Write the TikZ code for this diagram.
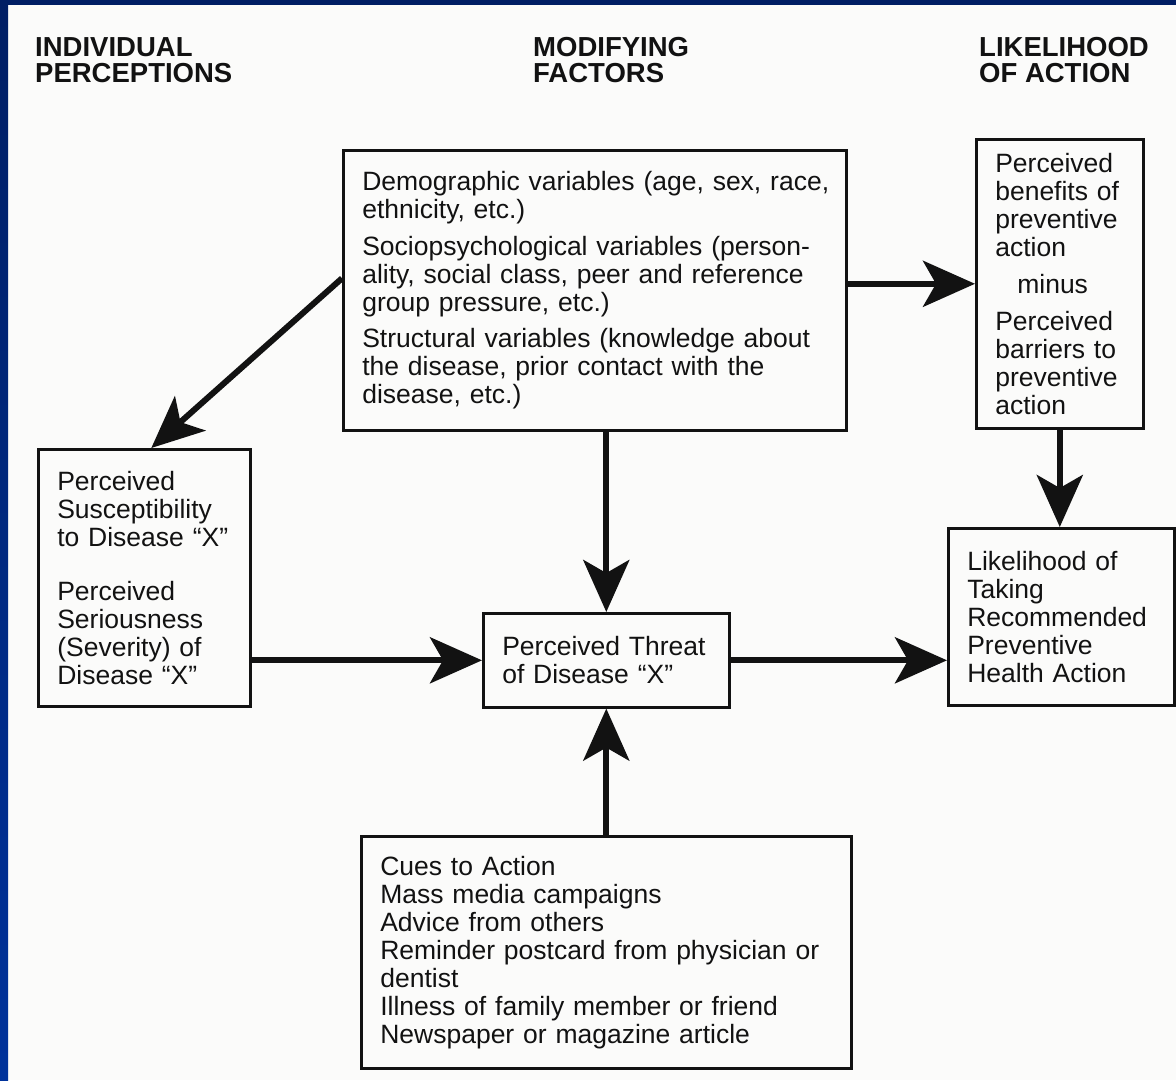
\documentclass[tikz,border=0pt]{standalone}
\usepackage{fontspec}
\setmainfont{Liberation Sans}
\usetikzlibrary{arrows.meta}

\definecolor{navy}{RGB}{0,30,100}
\definecolor{slideblue}{RGB}{0,50,155}
\definecolor{ink}{RGB}{18,18,18}
\definecolor{paper}{RGB}{251,251,250}

\tikzset{
  box/.style={draw=ink, line width=2.6pt, anchor=north west, inner xsep=19pt,
    inner ysep=0pt, align=left, text=ink, font=\fontsize{26.5}{28}\selectfont},
  head/.style={anchor=north west, inner sep=0pt, align=left, text=ink,
    font=\bfseries\fontsize{27.5}{26}\selectfont},
  flow/.style={draw=ink, line width=6pt,
    -{Stealth[length=52pt,width=46pt,inset=13pt]}},
}

\begin{document}
\begin{tikzpicture}[x=1pt,y=1pt]
        \useasboundingbox (0,0) rectangle (1176,-1080);
        \fill[paper] (0,0) rectangle (1176,-1080);
        \fill[navy] (0,0) rectangle (1176,-5);
        \shade[top color=navy, bottom color=slideblue] (0,0) rectangle (8,-1080);
        % column heads
        \foreach \x/\n/\t in {35/ind/{INDIVIDUAL\\PERCEPTIONS},
                              533/mod/{MODIFYING\\FACTORS},
                              979/act/{LIKELIHOOD\\OF ACTION}} {
            \node[head] (head-\n) at (\x,-37) {\t};
        }
        % boxes
        \node[box, text width=465pt, minimum height=280pt] (factors) at (342,-149)
            {\mbox{Demographic variables (age, sex, race,}\\ethnicity, etc.)\\[8.5pt]
             Sociopsychological variables (person-\\ality, social class, peer and reference\\group pressure, etc.)\\[8.5pt]
             Structural variables (knowledge about\\the disease, prior contact with the\\disease, etc.)};
        \node[box, text width=129pt, minimum height=289pt] (ben) at (975,-138)
            {Perceived\\benefits of\\preventive\\action\\[9pt]
             \hspace*{22pt}minus\\[9pt]
             Perceived\\barriers to\\preventive\\action};
        \node[box, text width=174pt, minimum height=257pt] (perc) at (37,-448)
            {Perceived\\Susceptibility\\to Disease “X”\\[26pt]
             Perceived\\Seriousness\\(Severity) of\\Disease “X”};
        \node[box, text width=208pt, minimum height=94pt] (threat) at (482,-612)
            {Perceived Threat\\of Disease “X”};
        \node[box, text width=188pt, minimum height=177pt] (like) at (947,-527)
            {Likelihood of\\Taking\\Recommended\\Preventive\\Health Action};
        \node[box, text width=452pt, minimum height=232pt] (cues) at (360,-835)
            {Cues to Action\\Mass media campaigns\\Advice from others\\
             Reminder postcard from physician or\\dentist\\
             Illness of family member or friend\\Newspaper or magazine article};
        % arrows
        \draw[flow] ([yshift=12pt]factors.west) -- ([xshift=7pt]perc.north);
        \draw[flow] (factors.east |- ben.west) -- (ben.west);
        \draw[flow] (factors.south -| threat.north) -- (threat.north);
        \draw[flow] (perc.east |- threat.west) -- (threat.west);
        \draw[flow] (threat.east) -- (threat.east -| like.west);
        \draw[flow] (ben.south) -- (ben.south |- like.north);
        \draw[flow] (cues.north) -- (threat.south);
\end{tikzpicture}
\end{document}
